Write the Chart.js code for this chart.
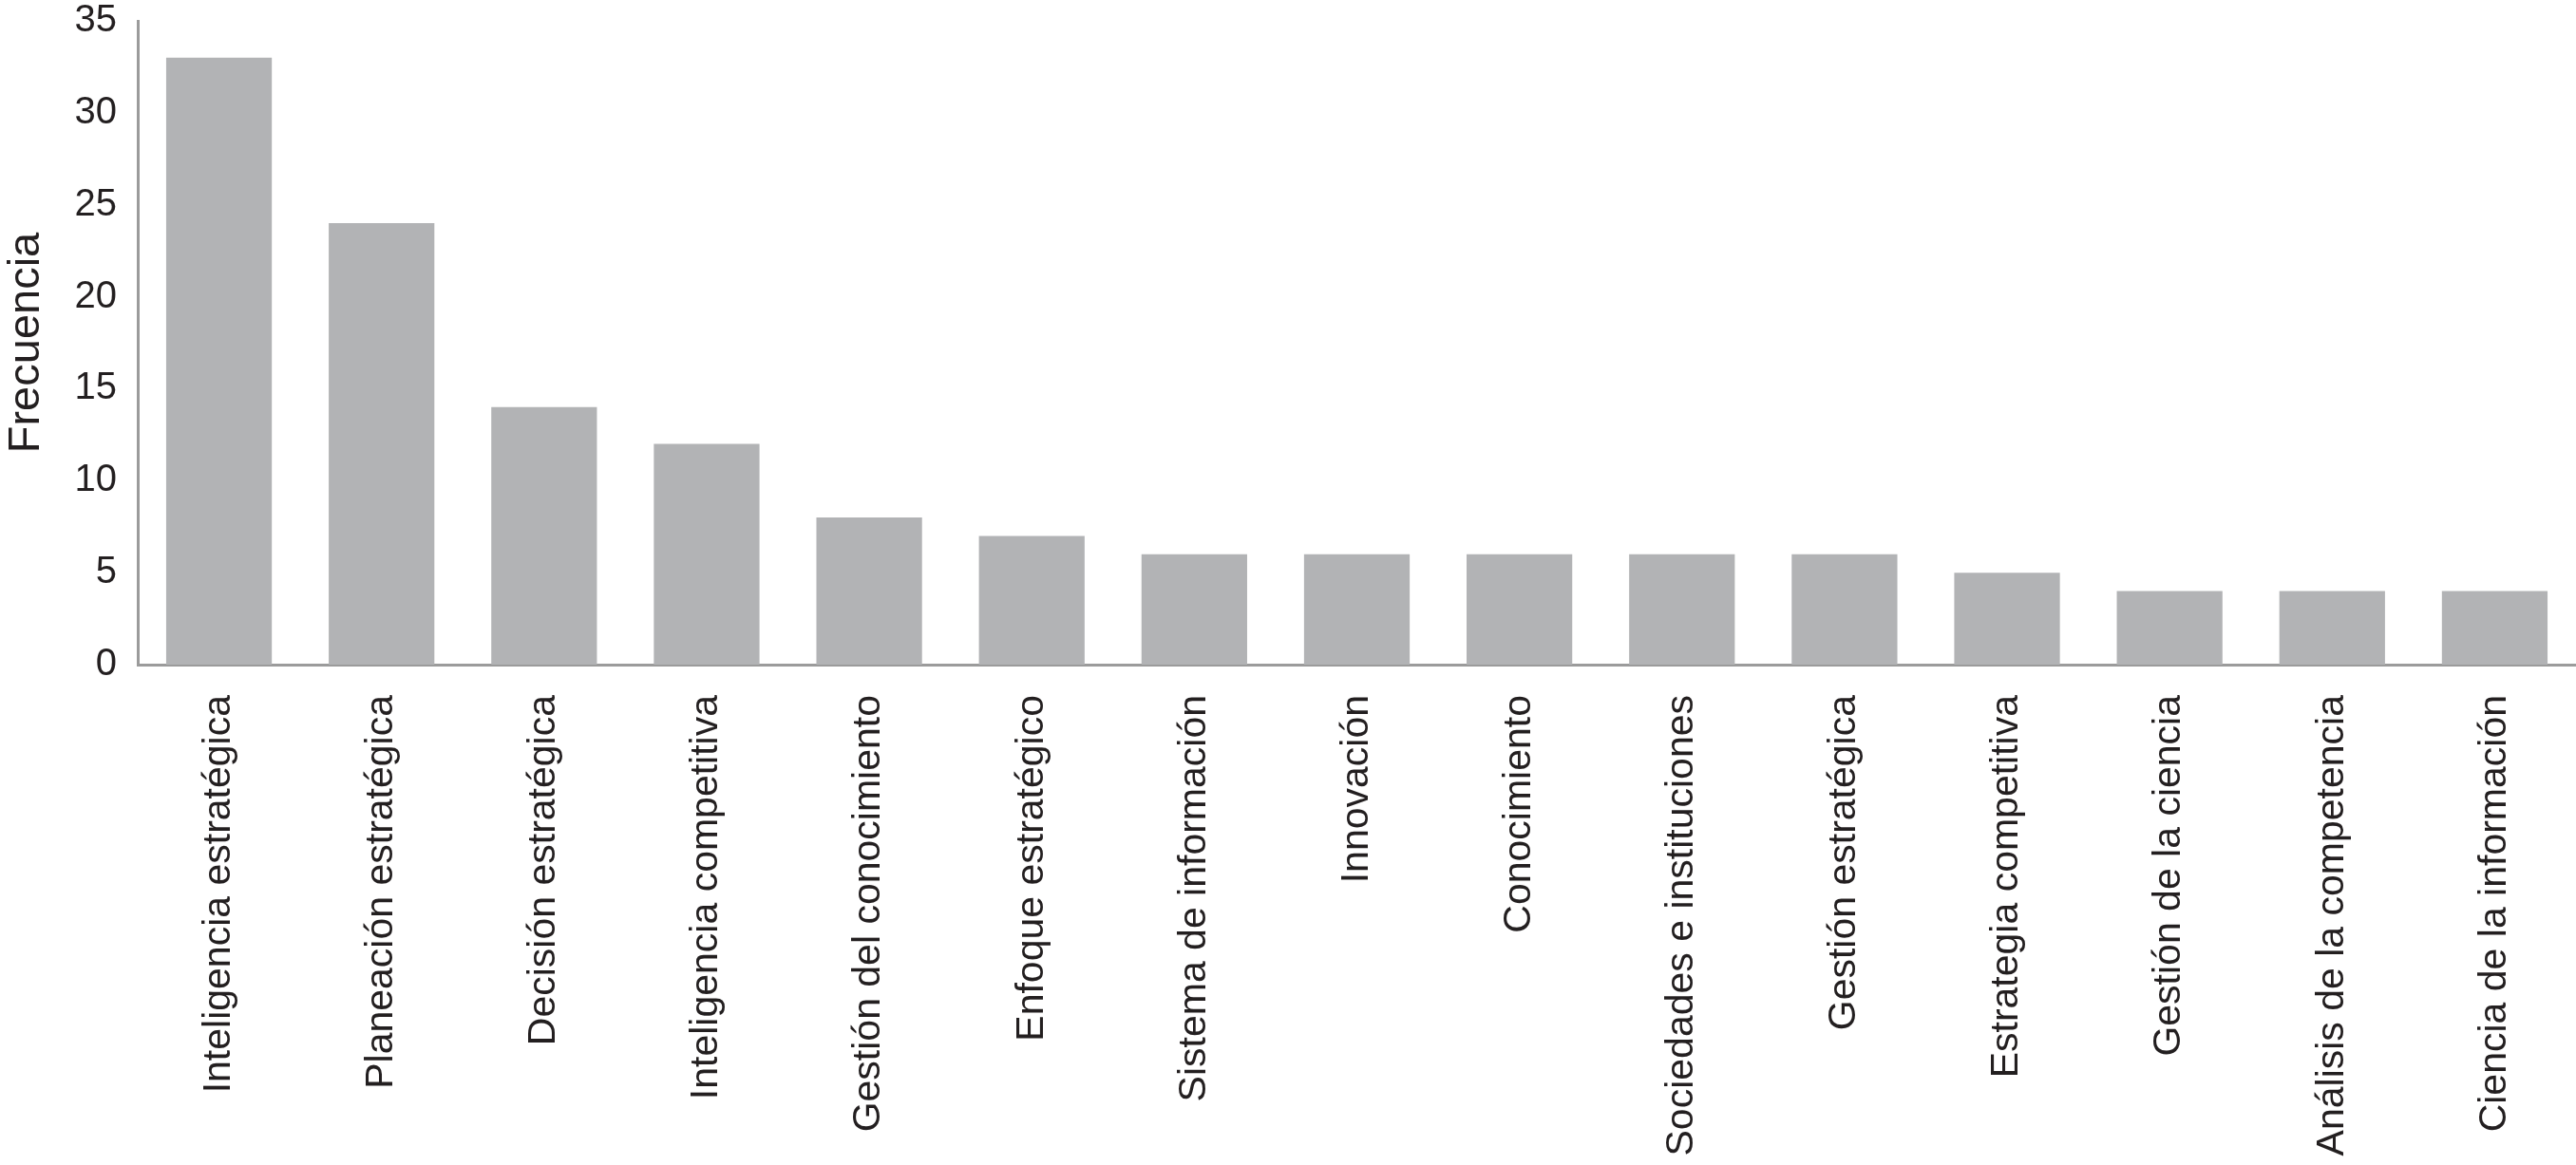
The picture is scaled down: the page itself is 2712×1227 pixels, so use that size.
<!DOCTYPE html>
<html>
<head>
<meta charset="utf-8">
<script src="https://cdn.jsdelivr.net/npm/chart.js@4"></script>
<style>
  html, body { margin: 0; padding: 0; background: #fff; }
  canvas { display: block; }
</style>
</head>
<body>
<canvas id="chart" width="2712" height="1227"></canvas>
<script>
/* DATA */
const categories = [
  'Inteligencia estratégica',
  'Planeación estratégica',
  'Decisión estratégica',
  'Inteligencia competitiva',
  'Gestión del conocimiento',
  'Enfoque estratégico',
  'Sistema de información',
  'Innovación',
  'Conocimiento',
  'Sociedades e instituciones',
  'Gestión estratégica',
  'Estrategia competitiva',
  'Gestión de la ciencia',
  'Análisis de la competencia',
  'Ciencia de la información'
]
const frecuencia = [33, 24, 14, 12, 8, 7, 6, 6, 6, 6, 6, 5, 4, 4, 4]
const yTicks = [0, 5, 10, 15, 20, 25, 30, 35]
const yTitle = 'Frecuencia'

/* STYLE */
const fontFamily = '"Liberation Sans", Arial, Helvetica, sans-serif'
const textColor = '#231f20'
const axisColor = '#9b9b9b'
const barColor = '#b2b3b5'

const ctx = document.getElementById('chart')

new Chart(ctx, {
  type: 'bar',
  data: {
    labels: categories,
    datasets: [{
      data: frecuencia,
      backgroundColor: barColor,
      borderWidth: 0,
      barPercentage: 0.65,
      categoryPercentage: 1
    }]
  },
  options: {
    responsive: false,
    animation: false,
    layout: { padding: { top: 22, right: 0, bottom: 0, left: 0 } },
    plugins: {
      legend: { display: false },
      tooltip: { enabled: false }
    },
    scales: {
      x: {
        grid: { display: false, drawTicks: false },
        border: { display: true, color: axisColor, width: 3 },
        ticks: {
          autoSkip: false,
          maxRotation: 90,
          minRotation: 90,
          padding: 32,
          color: textColor,
          font: { family: fontFamily, size: 41 }
        },
        afterFit: (scale) => {
          scale.height = 527
          scale.paddingLeft = 0
          scale.paddingRight = 0
        }
      },
      y: {
        min: 0,
        max: 35,
        afterBuildTicks: (scale) => {
          scale.ticks = yTicks.map(v => ({ value: v }))
        },
        grid: { display: false, drawTicks: false },
        border: { display: true, color: axisColor, width: 3 },
        ticks: {
          padding: 22,
          color: textColor,
          font: { family: fontFamily, size: 40 }
        },
        title: {
          display: true,
          text: yTitle,
          color: textColor,
          padding: { top: 5, bottom: 0 },
          font: { family: fontFamily, size: 47, lineHeight: 1 }
        },
        afterFit: (scale) => {
          scale.width = 145
          scale.paddingTop = 0
          scale.paddingBottom = 0
        }
      }
    }
  }
})
</script>
</body>
</html>
